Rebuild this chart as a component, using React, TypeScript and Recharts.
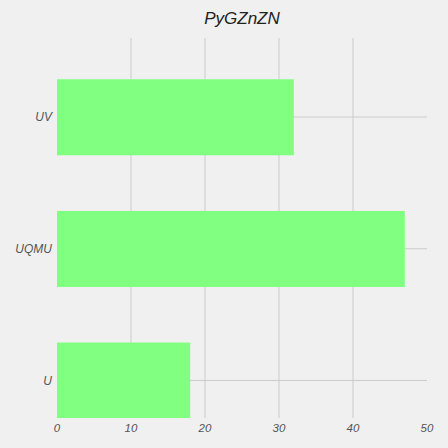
import React from "react";
import { BarChart, Bar, XAxis, YAxis, ReferenceLine } from "recharts";

const categories = ["U", "UQMU", "UV"];
const positions = [0, 1, 2];
const values = [18, 47, 32];
const xTicks = [0, 10, 20, 30, 40, 50];
const xGrid = [10, 20, 30, 40];
const title = "PyGZnZN";

const data = categories.map((name, i) => ({ name, pos: positions[i], value: values[i] }));

const FONT = "'Liberation Sans', Arial, sans-serif";

export default function App() {
  return (
    <div
      style={{
        position: "fixed",
        left: 0,
        top: 0,
        width: 448,
        height: 448,
        background: "#f0f0f0",
        fontFamily: FONT,
      }}
    >
      <div
        style={{
          position: "absolute",
          top: 9,
          left: 57,
          width: 370,
          textAlign: "center",
          fontSize: 17,
          fontStyle: "italic",
          color: "#222",
          lineHeight: "20px",
        }}
      >
        {title}
      </div>
      <BarChart
        width={448}
        height={448}
        data={data}
        layout="vertical"
        margin={{ top: 38, right: 21, left: 0, bottom: 0 }}
      >
        <XAxis
          type="number"
          domain={[0, 50]}
          ticks={xTicks}
          interval={0}
          axisLine={false}
          tickLine={false}
          tickSize={6}
          tickMargin={0}
          height={30}
          tick={{ fill: "#555", fontSize: 11.5, fontStyle: "italic", fontFamily: FONT }}
        />
        <YAxis
          type="number"
          dataKey="pos"
          domain={[-0.285, 2.6]}
          allowDataOverflow
          reversed
          ticks={positions}
          interval={0}
          tickFormatter={(v: number) => categories[positions.indexOf(v)] ?? ""}
          axisLine={false}
          tickLine={false}
          tickSize={5}
          tickMargin={0}
          width={57}
          tick={{ fill: "#555", fontSize: 12, fontStyle: "italic", fontFamily: FONT }}
        />
        {xGrid.map((v) => (
          <ReferenceLine key={"x" + v} x={v} stroke="#cbcbcb" strokeWidth={1} zIndex={-100} />
        ))}
        {positions.map((v) => (
          <ReferenceLine key={"y" + v} y={v} stroke="#cbcbcb" strokeWidth={1} zIndex={-100} />
        ))}
        <Bar dataKey="value" fill="#80ff80" barSize={76} isAnimationActive={false} />
      </BarChart>
    </div>
  );
}
